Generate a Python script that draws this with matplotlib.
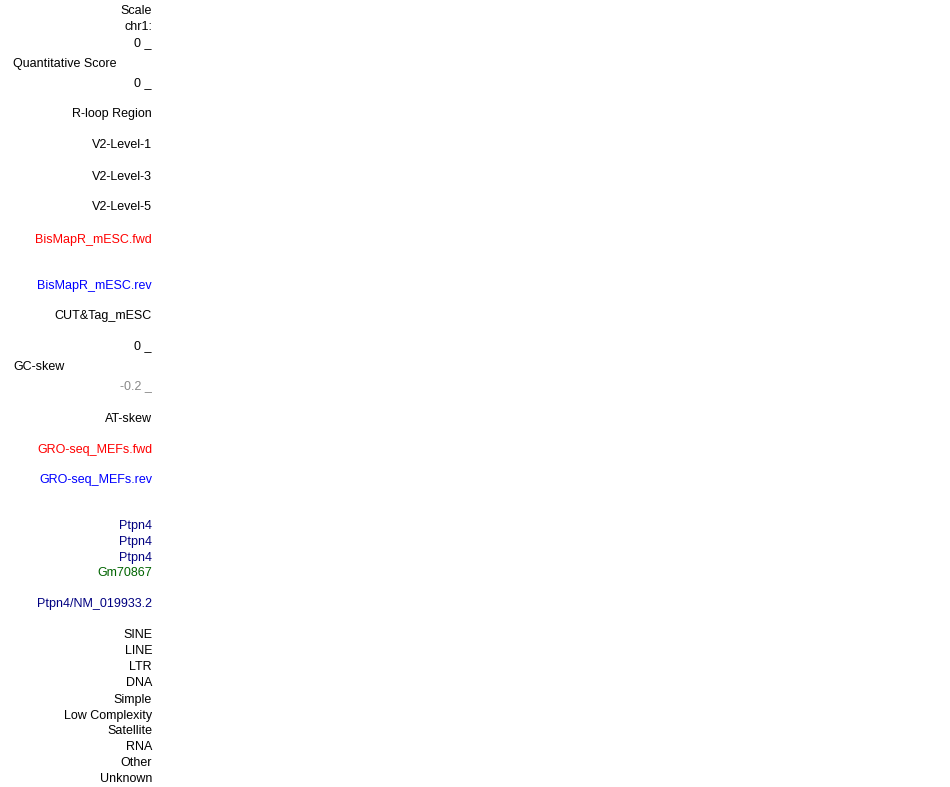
import matplotlib
matplotlib.use("Agg")
import matplotlib.pyplot as plt

# Track labels (right-aligned column)
right_labels = ["Scale", "chr1:", "0 _", "0 _", "R-loop Region", "V2-Level-1",
                "V2-Level-3", "V2-Level-5", "BisMapR_mESC.fwd", "BisMapR_mESC.rev",
                "CUT&Tag_mESC", "0 _", "-0.2 _", "AT-skew", "GRO-seq_MEFs.fwd",
                "GRO-seq_MEFs.rev", "Ptpn4", "Ptpn4", "Ptpn4", "Gm70867",
                "Ptpn4/NM_019933.2", "SINE", "LINE", "LTR", "DNA", "Simple",
                "Low Complexity", "Satellite", "RNA", "Other", "Unknown"]
# Left-aligned labels
left_labels = ["Quantitative Score", "GC-skew"]

# layout
right_y = [10, 26, 42, 82, 113, 144, 175, 206, 238, 284, 315, 345, 385, 417,
           448, 479, 524, 540, 556, 572, 603, 634, 650, 666, 682, 698, 714,
           730, 746, 762, 778]
left_y = [62, 365]
right_colors = ["black"] * 8 + ["#ff0000", "#0000ff", "black", "black", "#888888",
                "black", "#ff0000", "#0000ff", "#000080", "#000080", "#000080",
                "#006400", "#000080"] + ["black"] * 10

W, H = 950, 787
fig = plt.figure(figsize=(W / 100, H / 100), dpi=100)
ax = fig.add_axes([0, 0, 1, 1])
ax.set_xlim(0, W)
ax.set_ylim(H, 0)
ax.axis("off")

font = dict(family=["Liberation Sans", "DejaVu Sans"], fontsize=9.0)
dy = 1.5
for lab, y, c in zip(right_labels, right_y, right_colors):
    ax.text(152, y + dy, lab, ha="right", va="center", color=c, **font)
for lab, y in zip(left_labels, left_y):
    ax.text(13, y + dy, lab, ha="left", va="center", color="black", **font)

fig.savefig("out.png", dpi=100, facecolor="white")
